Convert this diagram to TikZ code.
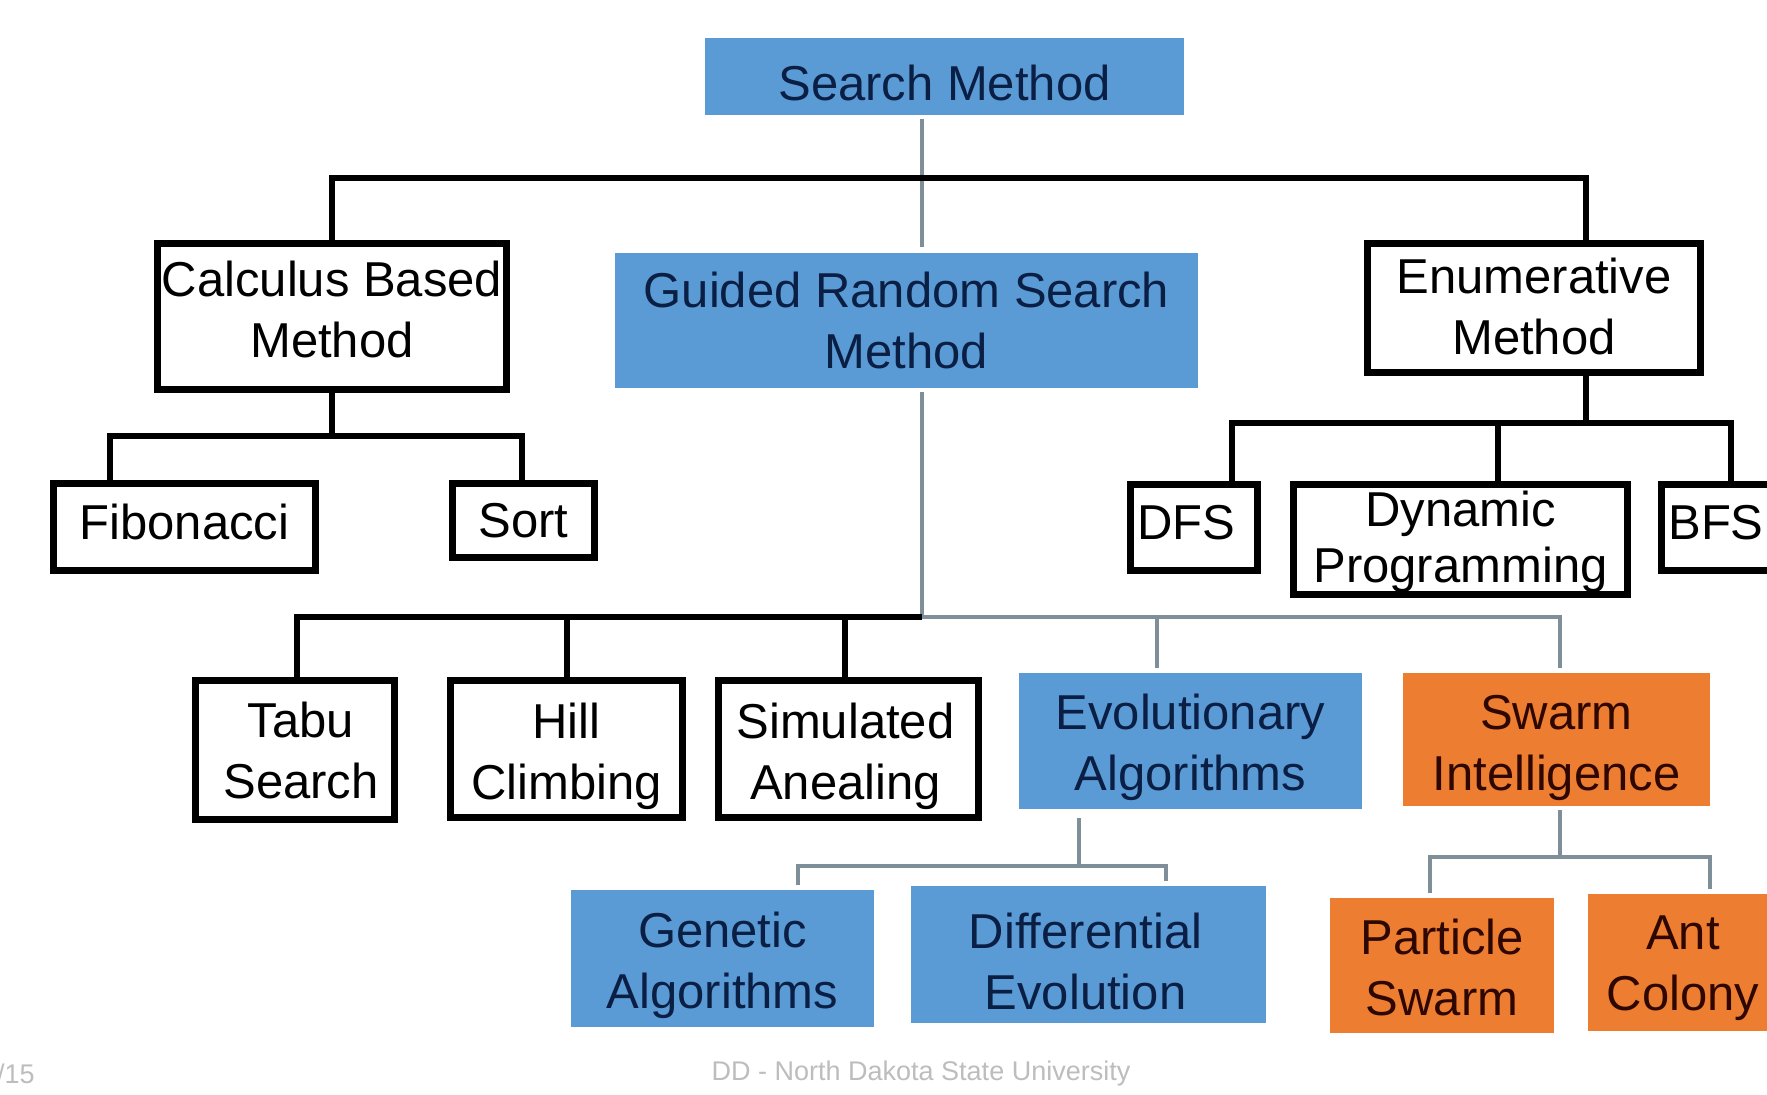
\documentclass[tikz,border=0pt]{standalone}
\usepackage{fontspec}
\setmainfont{Liberation Sans}
\usetikzlibrary{calc}
\definecolor{boxblue}{HTML}{5B9BD5}
\definecolor{boxorange}{HTML}{ED7D31}
\definecolor{navytext}{HTML}{0B1F45}
\definecolor{browntext}{HTML}{2E0800}
\definecolor{thinline}{HTML}{7F8F9A}
\definecolor{footgray}{HTML}{BDBDBD}
\tikzset{
  lbl/.style={align=center, inner sep=0pt, font=\fontsize{49}{61}\selectfont},
  wbox/.style={inner sep=0pt, draw=black, line width=7.5pt, fill=white},
  bbox/.style={inner sep=0pt, fill=boxblue},
  obox/.style={inner sep=0pt, fill=boxorange},
  wtxt/.style={lbl, text=black},
  btxt/.style={lbl, text=navytext},
  otxt/.style={lbl, text=browntext},
  blk/.style={draw=black, line width=6pt},
  thinc/.style={draw=thinline, line width=3.5pt},
  foot/.style={inner sep=0pt, text=footgray, font=\fontsize{27}{32}\selectfont}
}
\begin{document}
\begin{tikzpicture}[x=1pt, y=-1pt]
\useasboundingbox (0,0) rectangle (1767,1095);
\fill[white] (0,0) rectangle (1767,1095);
\clip (0,0) rectangle (1767,1095);

\coordinate (b1) at (0,178);
\coordinate (b2) at (0,436);
\coordinate (b3) at (0,423);
\coordinate (j2) at (922,617);
\coordinate (b4) at (0,866);
\coordinate (b5) at (0,857);

% boxes
\node[bbox, minimum width=479pt, minimum height=77pt] (search) at (944.5,76.5) {};
\node[bbox, minimum width=583pt, minimum height=135pt] (guided) at (906.5,320.5) {};
\node[wbox, minimum width=349pt, minimum height=146pt] (calc) at (332,316.5) {};
\node[wbox, minimum width=333pt, minimum height=129pt] (enum) at (1534,308) {};
\node[wbox, minimum width=262pt, minimum height=87pt] (fib) at (184.5,527) {};
\node[wbox, minimum width=142pt, minimum height=74pt] (sort) at (523.5,520.5) {};
\node[wbox, minimum width=127pt, minimum height=86pt] (dfs) at (1194,527.5) {};
\node[wbox, minimum width=334pt, minimum height=110pt] (dyn) at (1460.5,539.5) {};
\node[wbox, minimum width=109pt, minimum height=86pt] (bfs) at (1716,527.5) {};
\node[wbox, minimum width=199pt, minimum height=139pt] (tabu) at (295,750) {};
\node[wbox, minimum width=232pt, minimum height=137pt] (hill) at (566.5,749) {};
\node[wbox, minimum width=260pt, minimum height=137pt] (sim) at (848.5,749) {};
\node[bbox, minimum width=343pt, minimum height=136pt] (evo) at (1190.5,741) {};
\node[obox, minimum width=307pt, minimum height=133pt] (swarm) at (1556.5,739.5) {};
\node[bbox, minimum width=303pt, minimum height=137pt] (gen) at (722.5,958.5) {};
\node[bbox, minimum width=355pt, minimum height=137pt] (diff) at (1088.5,954.5) {};
\node[obox, minimum width=224pt, minimum height=135pt] (part) at (1442,965.5) {};
\node[obox, minimum width=190pt, minimum height=137pt] (ant) at (1683,962.5) {};

% texts
\node[btxt] (searcht) at ([yshift=-6pt]search.center) {Search Method};
\node[btxt] (guidedt) at (guided.center) {Guided Random Search\\Method};
\node[wtxt] (calct) at ([yshift=7pt]calc.center) {Calculus Based\\Method};
\node[wtxt] (enumt) at ([yshift=2pt]enum.center) {Enumerative\\Method};
\node[wtxt] (fibt) at ([yshift=5pt]fib.center) {Fibonacci};
\node[wtxt] (sortt) at (sort.center) {Sort};
\node[wtxt] (dfst) at ([xshift=-8pt,yshift=5pt]dfs.center) {DFS};
\node[wtxt, font=\fontsize{49}{56}\selectfont] (dynt) at ([yshift=-2pt]dyn.center) {Dynamic\\Programming};
\node[wtxt] (bfst) at ([yshift=5pt]bfs.center) {BFS};
\node[wtxt] (tabut) at ([xshift=6pt]tabu.center) {Tabu\\Search};
\node[wtxt] (hillt) at ([yshift=-7pt]hill.center) {Hill\\Climbing};
\node[wtxt] (simt) at ([xshift=-3pt,yshift=-7pt]sim.center) {Simulated\\Anealing};
\node[btxt] (evot) at ([yshift=-6pt]evo.center) {Evolutionary\\Algorithms};
\node[otxt] (swarmt) at ([yshift=-8pt]swarm.center) {Swarm\\Intelligence};
\node[btxt] (gent) at ([yshift=-7pt]gen.center) {Genetic\\Algorithms};
\node[btxt] (difft) at ([xshift=-3pt,yshift=-7pt]diff.center) {Differential\\Evolution};
\node[otxt] (partt) at ([yshift=-2pt]part.center) {Particle\\Swarm};
\node[otxt] (antt) at ([yshift=-6pt]ant.center) {Ant\\Colony};

% thin connectors
\draw[thinc, shorten <=4pt, shorten >=6pt] ([xshift=-22.5pt]search.south) -- ([xshift=15.5pt]guided.north);
\draw[thinc, shorten <=4pt] ([xshift=15.5pt]guided.south) -- (j2);
\draw[thinc, shorten >=5pt] (j2) -| ([xshift=-33.5pt]evo.north);
\draw[thinc, shorten >=5pt] (j2) -| ([xshift=3.5pt]swarm.north);
\draw[thinc, shorten <=9pt] ([xshift=-111.5pt]evo.south) -- ([xshift=-111.5pt]evo.south |- b4);
\draw[thinc, shorten >=5pt] ([xshift=-111.5pt]evo.south |- b4) -| ([xshift=75.5pt]gen.north);
\draw[thinc, shorten >=5pt] ([xshift=-111.5pt]evo.south |- b4) -| ([xshift=77.5pt]diff.north);
\draw[thinc, shorten <=4pt] ([xshift=3.5pt]swarm.south) -- ([xshift=3.5pt]swarm.south |- b5);
\draw[thinc, shorten >=5pt] ([xshift=3.5pt]swarm.south |- b5) -| ([xshift=-12pt]part.north);
\draw[thinc, shorten >=5pt] ([xshift=3.5pt]swarm.south |- b5) -| ([xshift=27pt]ant.north);

% black connectors
\draw[blk] (calc.north) -- (calc.north |- b1) -| ([xshift=52pt]enum.north);
\draw[blk] (calc.south) -- (calc.south |- b2) -| ([xshift=-74.5pt]fib.north);
\draw[blk] (calc.south |- b2) -| ([xshift=-1.5pt]sort.north);
\draw[blk] ([xshift=52pt]enum.south) -- ([xshift=52pt]enum.south |- b3) -| ([xshift=38pt]dfs.north);
\draw[blk] ([xshift=52pt]enum.south |- b3) -| ([xshift=37.5pt]dyn.north);
\draw[blk] ([xshift=52pt]enum.south |- b3) -| ([xshift=15pt]bfs.north);
\draw[blk] (j2) -| ([xshift=2pt]tabu.north);
\draw[blk] (j2) -| ([xshift=0.5pt]hill.north);
\draw[blk] (j2) -| ([xshift=-3.5pt]sim.north);

% footer
\node[foot] (footer) at (921,1074) {DD - North Dakota State University};
\node[foot, anchor=west] (page) at (-3,1074) {/15};
\end{tikzpicture}
\end{document}
